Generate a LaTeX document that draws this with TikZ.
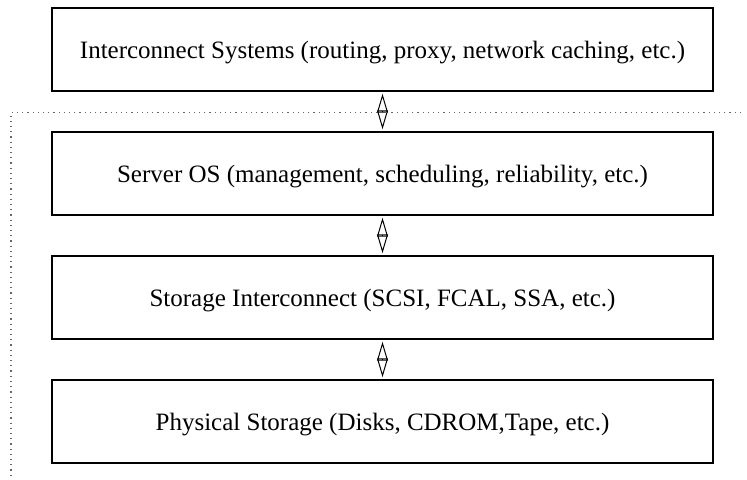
\documentclass[tikz,border=0pt]{standalone}
\usepackage{fontspec}
\setmainfont{Liberation Serif}
\usetikzlibrary{arrows.meta}

\tikzset{
    layer/.style={draw, line width=0.55pt, minimum width=330.5pt, minimum height=41.5pt, inner sep=0pt, text height=9pt, text depth=0pt, font=\fontsize{12.5}{15}\selectfont},
    link/.style={line width=0.5pt, {Triangle[open,length=9.4pt,width=5.4pt]}-{Triangle[open,length=9.4pt,width=5.4pt]}, shorten <=1.1pt, shorten >=1.1pt}
}

\begin{document}
\begin{tikzpicture}[x=0.5pt, y=-0.5pt]
    \useasboundingbox (0,0) rectangle (747,480);

    % Layers of the storage stack
    \node[layer] (inter) at (382.5,49.5) {Interconnect Systems (routing, proxy, network caching, etc.)};
    \node[layer] (os) at (382.5,173.5) {Server OS (management, scheduling, reliability, etc.)};
    \node[layer] (sint) at (382.5,297.5) {Storage Interconnect (SCSI, FCAL, SSA, etc.)};
    \node[layer] (phys) at (382.5,421.5) {Physical Storage (Disks, CDROM,Tape, etc.)};

    % Two-way links between layers
    \draw[link] (inter.south) -- (os.north);
    \draw[link] (os.south) -- (sint.north);
    \draw[link] (sint.south) -- (phys.north);

    % Dotted boundary
    \coordinate (cornerL) at (11,112.5);
    \coordinate (cornerR) at (741,112.5);
    \coordinate (cornerB) at (11,480);
    \draw[dotted, line width=0.6pt, black!60] (cornerR) -- (cornerL) -- (cornerB);
\end{tikzpicture}
\end{document}
